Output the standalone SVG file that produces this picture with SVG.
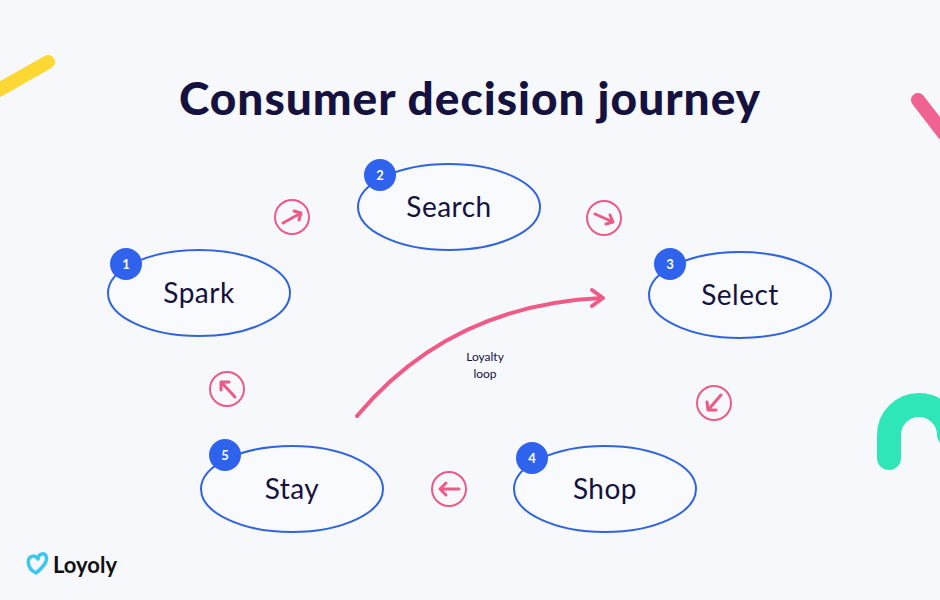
<svg xmlns="http://www.w3.org/2000/svg" width="940" height="600" viewBox="0 0 940 600">
<defs>
<style>
.node{fill:#f9fafd;stroke:#2f63e0;stroke-width:2}
.lbl{font-family:"Lato","Liberation Sans",sans-serif;font-size:28px;fill:#15123f;text-anchor:middle;letter-spacing:0.5px}
.badge{fill:#2f63ee}
.bt{font-family:"Lato","Liberation Sans",sans-serif;font-size:13px;fill:#fff;text-anchor:middle;font-weight:bold}
.ac{fill:none;stroke:#ec5a85;stroke-width:2}
.aa{fill:none;stroke:#ec5a85;stroke-width:3;stroke-linecap:round;stroke-linejoin:round}
</style>
</defs>
<rect width="940" height="600" fill="#f7f8fc"/>
<line x1="-5" y1="92" x2="48" y2="62" stroke="#fdd835" stroke-width="14" stroke-linecap="round"/>
<line x1="918" y1="100" x2="945" y2="135" stroke="#f06292" stroke-width="14" stroke-linecap="round"/>
<path d="M889,458 V435 A30,30 0 0 1 949,435" fill="none" stroke="#2ee6b8" stroke-width="24" stroke-linecap="round"/>
<text x="470" y="115" font-family="Lato,'Liberation Sans',sans-serif" font-size="46" font-weight="900" fill="#15123f" text-anchor="middle" letter-spacing="1">Consumer decision journey</text>
<g id="connectors">
<g><circle class="ac" cx="292" cy="217" r="17"/><path class="aa" d="M283,223 L301,213 M294,211 L301,213 L299,220"/></g>
<g><circle class="ac" cx="604" cy="218" r="17"/><path class="aa" d="M595,214 L613,222 M606,224 L613,222 L610,215"/></g>
<g><circle class="ac" cx="714" cy="403" r="17"/><path class="aa" d="M721,395 L708,410 M707,402 L708,410 L716,410"/></g>
<g><circle class="ac" cx="449" cy="489" r="17"/><path class="aa" d="M459,489 L440,489 M446,483 L440,489 L446,495"/></g>
<g><circle class="ac" cx="227" cy="389" r="17"/><path class="aa" d="M235,397 L221,382 M221,390 L221,382 L229,382"/></g>
<path d="M357,416 Q450,305 602,298" fill="none" stroke="#ef5a86" stroke-width="4" stroke-linecap="round"/>
<path d="M592,290 L603,298 L592,306" fill="none" stroke="#ef5a86" stroke-width="4" stroke-linecap="round" stroke-linejoin="round"/>
<text x="485" y="361" font-family="Lato,'Liberation Sans',sans-serif" font-size="12" fill="#15123f" text-anchor="middle">Loyalty</text>
<text x="485" y="378" font-family="Lato,'Liberation Sans',sans-serif" font-size="12" fill="#15123f" text-anchor="middle">loop</text>
</g>
<g id="spark"><ellipse class="node" cx="199" cy="293" rx="91" ry="43"/><text class="lbl" x="199" y="303">Spark</text><circle class="badge" cx="126" cy="264" r="16"/><text class="bt" x="126" y="269">1</text></g>
<g id="search"><ellipse class="node" cx="449" cy="207" rx="91" ry="43"/><text class="lbl" x="449" y="217">Search</text><circle class="badge" cx="380" cy="175" r="16"/><text class="bt" x="380" y="180">2</text></g>
<g id="select"><ellipse class="node" cx="740" cy="295" rx="91" ry="43"/><text class="lbl" x="740" y="305">Select</text><circle class="badge" cx="670" cy="264" r="16"/><text class="bt" x="670" y="269">3</text></g>
<g id="shop"><ellipse class="node" cx="605" cy="489" rx="91" ry="43"/><text class="lbl" x="605" y="499">Shop</text><circle class="badge" cx="532" cy="458" r="16"/><text class="bt" x="532" y="463">4</text></g>
<g id="stay"><ellipse class="node" cx="292" cy="489" rx="91" ry="43"/><text class="lbl" x="292" y="499">Stay</text><circle class="badge" cx="225" cy="455" r="16"/><text class="bt" x="225" y="460">5</text></g>
<g id="logo">
<path d="M36,573 C26,568 26,556 34,556 C36,556 37,558 38,559 C38,554 44,552 46,556 C48,560 44,567 36,573 Z" fill="none" stroke="#3cc6f0" stroke-width="3.5" stroke-linejoin="round"/>
<text x="53" y="573" font-family="Lato,'Liberation Sans',sans-serif" font-size="22" font-weight="bold" fill="#111">Loyoly</text>
</g>
</svg>
